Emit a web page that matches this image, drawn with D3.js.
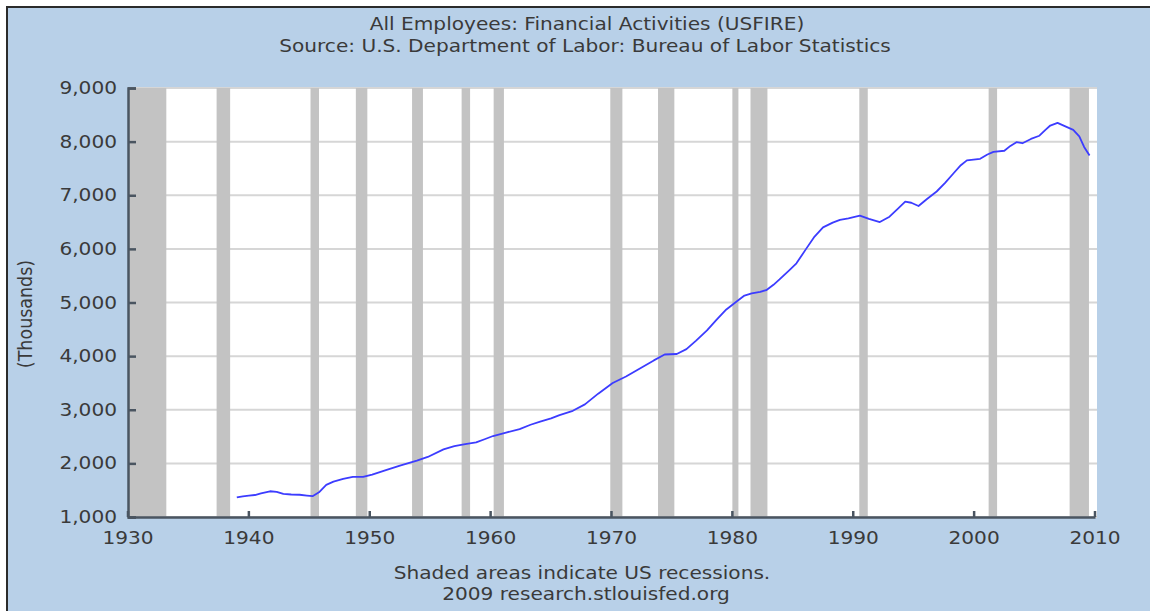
<!DOCTYPE html>
<html>
<head>
<meta charset="utf-8">
<script src="https://cdn.jsdelivr.net/npm/d3@7"></script>
<style>
  body { margin: 0; background: #ffffff; }
  svg { display: block; }
  text { font-family: "DejaVu Sans", Verdana, sans-serif; fill: #3a3a3a; }
</style>
</head>
<body>
<div id="graph1"></div>
<script>
const WIDTH = 1150
const HEIGHT = 611
const SX = 1.15   // the original picture is a bit stretched sideways

// USFIRE, thousands of employees
const years = [1939.0, 1939.5, 1940.0, 1940.5, 1941.0, 1941.75, 1942.3, 1942.85, 1943.5, 1944.2,
    1944.8, 1945.3, 1945.8, 1946.4, 1947.0, 1947.8, 1948.6, 1949.45, 1950.2, 1951.4,
    1952.5, 1953.9, 1954.8, 1956.1, 1957.0, 1957.9, 1958.8, 1959.5, 1960.2, 1961.2,
    1962.4, 1963.3, 1964.1, 1965.0, 1965.7, 1966.8, 1967.8, 1968.9, 1970.1, 1971.2,
    1972.35, 1973.5, 1974.4, 1975.4, 1976.2, 1977.0, 1977.9, 1978.7, 1979.5, 1980.35,
    1981.0, 1981.6, 1982.3, 1982.8, 1983.4, 1983.9, 1984.7, 1985.3, 1986.1, 1986.8,
    1987.5, 1988.3, 1988.9, 1989.6, 1990.55, 1991.3, 1992.2, 1993.0, 1993.7, 1994.3,
    1994.8, 1995.4, 1996.1, 1996.9, 1997.6, 1998.3, 1998.9, 1999.4, 2000.5, 2001.1,
    2001.6, 2002.5, 2003.0, 2003.5, 2004.0, 2004.7, 2005.4, 2005.9, 2006.3, 2006.9,
    2007.5, 2008.2, 2008.7, 2009.1, 2009.55]
const employees = [1365, 1385, 1400, 1410, 1440, 1480, 1470, 1430, 1420, 1415,
    1400, 1390, 1460, 1600, 1660, 1710, 1750, 1750, 1790, 1880,
    1960, 2050, 2120, 2260, 2320, 2360, 2390, 2450, 2510, 2570,
    2640, 2720, 2780, 2840, 2900, 2980, 3100, 3300, 3500, 3620,
    3770, 3920, 4030, 4040, 4130, 4290, 4480, 4680, 4870, 5020,
    5130, 5170, 5200, 5230, 5330, 5430, 5600, 5730, 6000, 6230,
    6400, 6490, 6540, 6570, 6620, 6560, 6500, 6600, 6750, 6880,
    6860, 6800, 6930, 7070, 7230, 7410, 7560, 7650, 7680, 7760,
    7810, 7830, 7920, 7990, 7970, 8050, 8110, 8220, 8300, 8350,
    8290, 8220, 8100, 7900, 7740]

// NBER recessions
const recessionStarts = [1929.67, 1937.33, 1945.1, 1948.85, 1953.5, 1957.6, 1960.25, 1969.9, 1973.85, 1980.0, 1981.5, 1990.5, 2001.2, 2007.9]
const recessionEnds = [1933.17, 1938.45, 1945.8, 1949.8, 1954.4, 1958.3, 1961.1, 1970.9, 1975.2, 1980.5, 1982.9, 1991.2, 2001.9, 2009.5]

const yTicks = [1000, 2000, 3000, 4000, 5000, 6000, 7000, 8000, 9000]
const xTicks = [1930, 1940, 1950, 1960, 1970, 1980, 1990, 2000, 2010]

const titleLines = ["All Employees: Financial Activities (USFIRE)", "Source: U.S. Department of Labor: Bureau of Labor Statistics"]
const footLines = ["Shaded areas indicate US recessions.", "2009 research.stlouisfed.org"]
const yLabel = "(Thousands)"

const plot = {left: 128, right: 1097, top: 88, bottom: 517}

let svg = d3.select("#graph1")
    .append("svg")
    .attr("width", WIDTH)
    .attr("height", HEIGHT)

// blue frame
svg.append("rect")
    .attr("x", 7).attr("y", 7)
    .attr("width", WIDTH + 20).attr("height", HEIGHT + 20)
    .attr("fill", "#b8d0e8")
    .attr("stroke", "#2b2b2b")
    .attr("stroke-width", 2)

let x = d3.scaleLinear()
    .domain([1930, 2010])
    .range([plot.left, 1095])

let y = d3.scaleLinear()
    .domain([1000, 9000])
    .range([plot.bottom, plot.top])

svg.append("rect")
    .attr("x", plot.left).attr("y", plot.top)
    .attr("width", plot.right - plot.left)
    .attr("height", plot.bottom - plot.top)
    .attr("fill", "#ffffff")

// horizontal grid
svg.append("g").selectAll("line")
    .data(yTicks)
    .enter()
    .append("line")
    .attr("x1", plot.left).attr("x2", plot.right)
    .attr("y1", d => y(d)).attr("y2", d => y(d))
    .attr("stroke", "#d6d6d6")
    .attr("stroke-width", 2)

// recession bars
svg.append("g").selectAll("rect")
    .data(recessionStarts)
    .enter()
    .append("rect")
    .attr("x", d => x(Math.max(d, 1930)))
    .attr("y", plot.top)
    .attr("width", (d, i) => x(recessionEnds[i]) - x(Math.max(d, 1930)))
    .attr("height", plot.bottom - plot.top)
    .attr("fill", "#c3c3c3")

let line = d3.line()
    .x(function(d, i) { return x(years[i]) })
    .y(function(d) { return y(d) })

svg.append("path")
    .datum(employees)
    .attr("d", line)
    .attr("fill", "none")
    .attr("stroke", "#3c3cff")
    .attr("stroke-width", 1.8)
    .attr("stroke-linejoin", "round")

// axes, ticks pointing inwards
let yAxis = svg.append("g")
    .attr("transform", `translate(${plot.left},0)`)
    .call(d3.axisLeft(y).tickValues(yTicks).tickFormat(d3.format(",")).tickSizeInner(-8).tickSizeOuter(-8).tickPadding(11))
yAxis.selectAll("text")
    .attr("x", -11 / SX)
    .attr("transform", `scale(${SX},1)`)

let xAxis = svg.append("g")
    .attr("transform", `translate(0,${plot.bottom})`)
    .call(d3.axisBottom(x).tickValues(xTicks).tickFormat(d3.format("d")).tickSizeInner(-6).tickSizeOuter(0).tickPadding(15))
xAxis.selectAll("text")
    .attr("transform", `scale(${SX},1)`)
xAxis.selectAll(".tick")
    .attr("transform", d => `translate(${x(d)},0)`)

svg.selectAll(".domain, .tick line")
    .attr("stroke", "#4a5561")
    .attr("stroke-width", 2.5)
svg.selectAll(".tick text")
    .style("font-size", "17.5px")
    .attr("fill", "#3a3a3a")

function addText(str, cx, cy) {
    svg.append("text")
        .attr("transform", `translate(${cx},${cy}) scale(${SX},1)`)
        .attr("text-anchor", "middle")
        .style("font-size", "17.5px")
        .text(str)
}

addText(titleLines[0], 587, 30)
addText(titleLines[1], 585, 52)
addText(footLines[0], 582, 579)
addText(footLines[1], 586, 600)

svg.append("text")
    .attr("transform", `translate(32,314) scale(${SX},1) rotate(-90)`)
    .attr("text-anchor", "middle")
    .style("font-size", "17.5px")
    .text(yLabel)
</script>
</body>
</html>
